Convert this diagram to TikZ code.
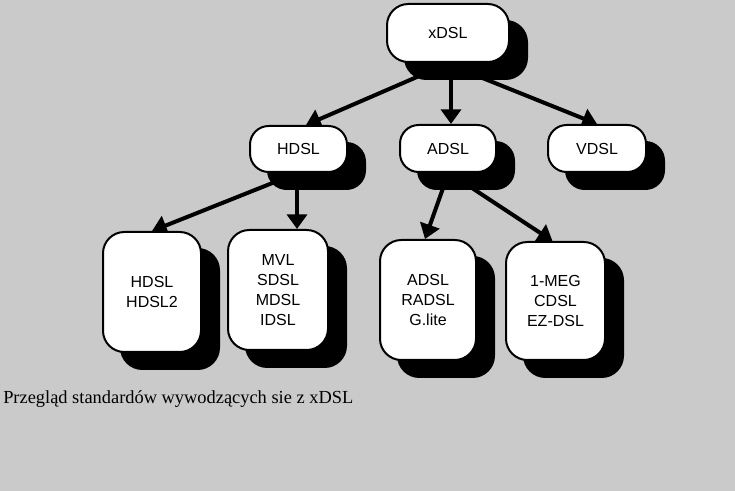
\documentclass[tikz,border=0pt]{standalone}
\usepackage{fontspec}
\setmainfont{Liberation Serif}
\newfontfamily\boxfont{Liberation Sans}
\usetikzlibrary{arrows.meta,calc}
\definecolor{bggray}{RGB}{202,202,202}
\pgfdeclarelayer{back}
\pgfdeclarelayer{arrowlayer}
\pgfsetlayers{back,arrowlayer,main}
\newcommand\dslbox[7]{% name, x, y, width, height, radius, text
  \node[shadowbox,minimum width=#4,minimum height=#5,rounded corners=#6] (#1s) at (#2+18,#3+17) {};
  \node[dslnode,minimum width=#4,minimum height=#5,rounded corners=#6] (#1) at (#2,#3) {#7};
}
\begin{document}
\begin{tikzpicture}[x=0.75pt,y=-0.75pt,
  dslnode/.style={draw=black,line width=1.5pt,fill=white,align=center,inner sep=0pt,
    font=\boxfont\fontsize{12}{15}\selectfont},
  shadowbox/.style={draw=black,line width=1.5pt,fill=black,inner sep=0pt},
  arr/.style={line width=3pt,-{Triangle[length=11pt,width=15pt]}}]
\useasboundingbox (0,0) rectangle (735,491);
\begin{pgfonlayer}{back}
  \fill[bggray] (0,0) rectangle (735,491);
\end{pgfonlayer}

\dslbox{x}{448}{33}{91.5pt}{43.5pt}{16pt}{xDSL}
\dslbox{h}{298.5}{149}{72.75pt}{34.5pt}{14pt}{HDSL}
\dslbox{a}{448}{148.5}{72pt}{35.25pt}{14pt}{ADSL}
\dslbox{v}{597}{148.5}{73.5pt}{35.25pt}{14pt}{VDSL}
\dslbox{ba}{152}{292}{73.5pt}{90pt}{16pt}{HDSL\\HDSL2}
\dslbox{bb}{278}{290}{75pt}{90pt}{16pt}{MVL\\SDSL\\MDSL\\IDSL}
\dslbox{bc}{428}{300}{72pt}{90pt}{16pt}{ADSL\\RADSL\\G.lite}
\dslbox{bd}{555.5}{301}{74.25pt}{88.5pt}{16pt}{1-MEG\\CDSL\\EZ-DSL}

\begin{pgfonlayer}{arrowlayer}
  \draw[arr] ($(x.center)+(-8,34)$) -- ($(h.north)+(7.5,0)$);
  \draw[arr] ($(x.center)+(3,30)$) -- ($(a.north)+(3,0)$);
  \draw[arr] ($(x.center)+(22,40)$) -- (v.north);
  \draw[arr] ($(h.center)+(-8.5,27)$) -- (ba.north);
  \draw[arr] ($(h.center)+(-1.5,16)$) -- ($(bb.north)+(19,0)$);
  \draw[arr] ($(a.center)+(2,20)$) -- ($(bc.north)+(-3,0)$);
  \draw[arr] ($(a.center)+(5,27)$) -- ($(bd.north)+(-3,0)$);
\end{pgfonlayer}

\node[anchor=base west,inner sep=0pt,font=\fontsize{13.8}{16}\selectfont] (cap) at (3,403)
  {Przegląd standardów wywodzących sie z xDSL};
\end{tikzpicture}
\end{document}
